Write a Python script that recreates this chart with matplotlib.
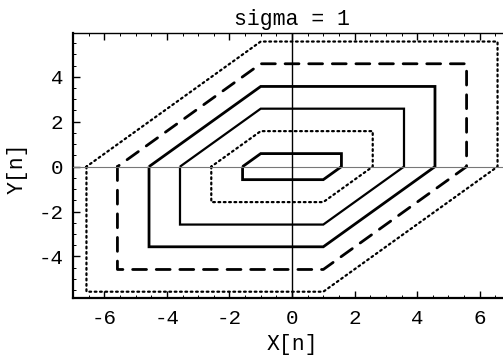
import numpy as np
import matplotlib
matplotlib.use("Agg")
import matplotlib.pyplot as plt
from matplotlib.ticker import MultipleLocator

# contour levels (half-height of each hexagonal contour) and shift
levels = [0.58, 1.58, 2.58, 3.57, 4.58, 5.57]
offset = 1.0
styles = ["solid", "dotted", "solid", "solid", "dashed", "dotted"]
widths = [2.0, 1.6, 1.6, 2.0, 2.0, 1.6]
xticks = [-6, -4, -2, 0, 2, 4, 6]
yticks = [-4, -2, 0, 2, 4]
title = "sigma = 1"
xlabel = "X[n]"
ylabel = "Y[n]"

FONT = ["Liberation Mono", "DejaVu Sans Mono"]

fig = plt.figure(figsize=(5.03, 3.55), dpi=100)
ax = fig.add_axes([73 / 503, 1 - 298 / 355, 438 / 503, 265 / 355])

dash_map = {"solid": "-", "dotted": (0, (0.8, 1.6)), "dashed": (0, (5, 3.5))}

for h, st, lw in zip(levels, styles, widths):
    d = offset
    xs = [-d - h, -d - h, d, d + h, d + h, -d, -d - h]
    ys = [0, -h, -h, 0, h, h, 0]
    ax.plot(xs, ys, color="black", linestyle=dash_map[st], linewidth=lw,
            solid_capstyle="butt", dash_capstyle="round", solid_joinstyle="miter")

ax.axhline(0, color="#777777", linewidth=0.8, zorder=3)
ax.axvline(0, color="black", linewidth=1.0, zorder=4)

ax.set_xlim(-7, 7)
ax.set_ylim(-5.85, 5.95)
ax.set_xticks(xticks)
ax.set_yticks(yticks)
ax.set_xticklabels([f"{t:d}" for t in xticks])
ax.set_yticklabels([f"{t:d}" for t in yticks])
ax.xaxis.set_minor_locator(MultipleLocator(0.5))
ax.yaxis.set_minor_locator(MultipleLocator(0.5))
ax.tick_params(which="both", direction="in", top=True, right=False,
               labelsize=15, color="black")
ax.tick_params(which="major", length=5, width=1.0)
ax.tick_params(axis="x", which="major", pad=8)
ax.tick_params(axis="y", which="major", pad=7)
ax.tick_params(which="minor", length=2.5, width=0.7)
for lab in ax.get_xticklabels() + ax.get_yticklabels():
    lab.set_family(FONT)

ax.spines["right"].set_visible(False)
ax.spines["left"].set_linewidth(1.6)
ax.spines["bottom"].set_linewidth(1.6)
ax.spines["top"].set_linewidth(1.0)

ax.set_title(title, family=FONT, fontsize=15.5, pad=6)
ax.set_xlabel(xlabel, family=FONT, fontsize=15.5)
ax.set_ylabel(ylabel, family=FONT, fontsize=15.5)
ax.xaxis.set_label_coords((292 - 73) / 438, -0.135)
ax.yaxis.set_label_coords(-0.103, (298 - 168) / 265)

fig.savefig("out.png", dpi=100)
